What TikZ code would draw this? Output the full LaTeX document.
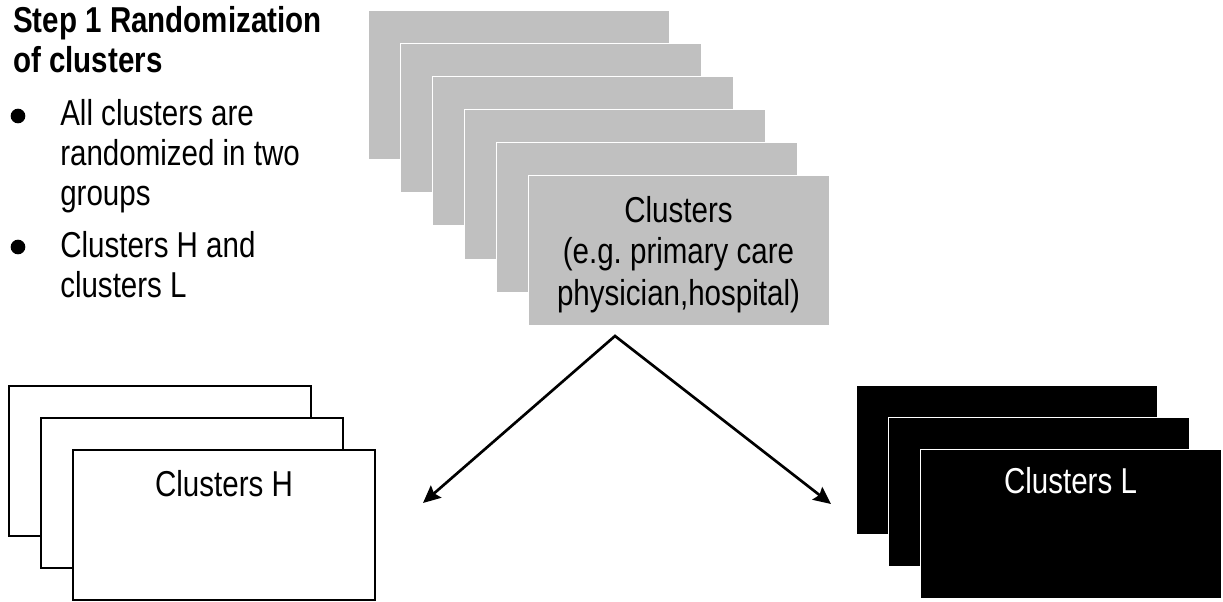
\documentclass[tikz,border=0pt]{standalone}
\usepackage{fontspec}
\setmainfont{Liberation Sans}[FakeStretch=0.82]
\frenchspacing
\usetikzlibrary{positioning, arrows.meta}

\definecolor{clustergray}{RGB}{192,192,192}

\tikzset{
	card/.style={rectangle, anchor=north west, minimum width=225.75pt, minimum height=111.75pt, inner sep=0pt, outer sep=0pt},
	graycard/.style={card, fill=clustergray, draw=white, line width=0.75pt},
	whitecard/.style={card, fill=white, draw=black, line width=1.5pt, minimum width=226.5pt, minimum height=112.5pt},
	blackcard/.style={card, fill=black, draw=white, line width=0.75pt},
	cardtext/.style={anchor=base, align=center, inner sep=0pt, font=\fontsize{27}{31}\selectfont},
	listtext/.style={anchor=base west, align=left, inner sep=0pt, font=\fontsize{27}{30}\selectfont},
	bulletdot/.style={circle, fill=black, minimum size=11pt, inner sep=0pt},
	splitarrow/.style={line width=2pt, {Stealth[length=13pt,width=12pt,inset=2pt]}-{Stealth[length=13pt,width=12pt,inset=2pt]}}
}

\begin{document}
\begin{tikzpicture}[x=0.75pt, y=-0.75pt]
	
	\useasboundingbox (0,0) rectangle (1223,602);
	
	% step description (base = last line)
	\node[listtext, font=\bfseries\fontsize{27}{30}\selectfont] (steptitle) at (13,73) {Step 1 Randomization\\of clusters};
	\node[bulletdot] (dotA) at (18,116) {};
	\node[listtext] (itemA) at (60,206) {All clusters are\\randomized in two\\groups};
	\node[bulletdot] (dotB) at (18,247) {};
	\node[listtext] (itemB) at (60,297) {Clusters H and\\clusters L};
	
	% all clusters
	\foreach \i in {0,...,5}
		\node[graycard] (gcard\i) at (368+32*\i, 11+33*\i) {};
	\node[cardtext] (gtext) at ([yshift=-96.75pt]gcard5.north) {Clusters\\(e.g. primary care\\physician,hospital)};
	
	% the two groups
	\foreach \i in {0,1,2}
		\node[whitecard] (hcard\i) at (9+32*\i, 386+32*\i) {};
	\node[cardtext] (htext) at ([yshift=-34.5pt]hcard2.north) {Clusters H};
	
	\foreach \i in {0,1,2}
		\node[blackcard] (lcard\i) at (856+32*\i, 385+32*\i) {};
	\node[cardtext, text=white] (ltext) at ([yshift=-33pt]lcard2.north) {Clusters L};
	
	\coordinate (split) at (615,336);
	\coordinate (toH) at (423,503);
	\coordinate (toL) at (831,504);
	\draw[splitarrow] (toH) -- (split) -- (toL);
	
\end{tikzpicture}
\end{document}
